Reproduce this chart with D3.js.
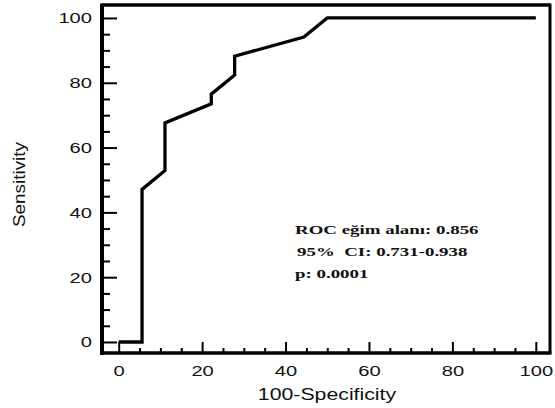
<html>

<head>
  <meta charset="utf-8">
  <title>ROC curve</title>
  <script type="text/javascript" src="https://cdn.jsdelivr.net/npm/d3@7"></script>
  <style>
    body { margin: 0; background: #fff; }
  </style>
</head>

<body>
  <script type="text/javascript">
    const w = 555;
    const h = 408;
    // the picture is stretched sideways, so text is too
    const sx = 1.3;

    // ROC points (100-Specificity, Sensitivity)
    const fpr = [0, 5.6, 5.6, 11.1, 11.1, 22.2, 22.2, 27.8, 27.8, 44.4, 50, 100];
    const tpr = [0, 0, 47.1, 52.9, 67.6, 73.5, 76.5, 82.4, 88.2, 94.1, 100, 100];

    const majorTicks = [0, 20, 40, 60, 80, 100];
    const minorTicks = d3.range(0, 101, 5).filter(d => d % 20 !== 0);

    const notes = ["ROC eğim alanı: 0.856", "95%  CI: 0.731-0.938", "p: 0.0001"];

    const x = d3.scaleLinear().domain([-4, 103.4]).range([102, 550]);
    const y = d3.scaleLinear().domain([-3.4, 104]).range([353, 5]);

    const svg = d3.select("body")
      .append("svg")
      .attr("width", w)
      .attr("height", h);

    // minor ticks
    svg.append("g")
      .attr("transform", "translate(0," + y.range()[0] + ")")
      .call(d3.axisBottom(x).tickValues(minorTicks).tickSize(-5).tickFormat(""))
      .call(g => g.select(".domain").remove())
      .selectAll("line").attr("stroke-width", 2);
    svg.append("g")
      .attr("transform", "translate(" + x.range()[0] + ",0)")
      .call(d3.axisLeft(y).tickValues(minorTicks).tickSize(-8).tickFormat(""))
      .call(g => g.select(".domain").remove())
      .selectAll("line").attr("stroke-width", 2);

    // major ticks + labels
    const xAxis = svg.append("g")
      .attr("transform", "translate(0," + y.range()[0] + ")")
      .call(d3.axisBottom(x).tickValues(majorTicks).tickSizeInner(-11).tickSizeOuter(0).tickPadding(12));
    xAxis.select(".domain").remove();
    xAxis.selectAll("line").attr("stroke-width", 2);
    xAxis.selectAll("text")
      .attr("font-family", "Liberation Sans, Arial, sans-serif")
      .attr("font-size", 15.5)
      .attr("fill", "#111")
      .attr("transform", "scale(" + sx + ",1)");

    const yAxis = svg.append("g")
      .attr("transform", "translate(" + x.range()[0] + ",0)")
      .call(d3.axisLeft(y).tickValues(majorTicks).tickSizeInner(-15).tickSizeOuter(0));
    yAxis.select(".domain").remove();
    yAxis.selectAll("line").attr("stroke-width", 2);
    yAxis.selectAll("text")
      .attr("font-family", "Liberation Sans, Arial, sans-serif")
      .attr("font-size", 15.5)
      .attr("fill", "#111")
      .attr("x", -10 / sx)
      .attr("transform", "scale(" + sx + ",1)");

    // frame
    svg.append("line")
      .attr("x1", x.range()[0]).attr("x2", x.range()[1])
      .attr("y1", y.range()[1]).attr("y2", y.range()[1])
      .attr("stroke", "#000").attr("stroke-width", 3.3);
    svg.append("line")
      .attr("x1", x.range()[1]).attr("x2", x.range()[1])
      .attr("y1", y.range()[1] - 1.5).attr("y2", y.range()[0])
      .attr("stroke", "#000").attr("stroke-width", 3);
    svg.append("line")
      .attr("x1", x.range()[0]).attr("x2", x.range()[0])
      .attr("y1", y.range()[1] - 1.5).attr("y2", y.range()[0] + 2)
      .attr("stroke", "#000").attr("stroke-width", 4);
    svg.append("line")
      .attr("x1", x.range()[0] - 2).attr("x2", x.range()[1] + 1.5)
      .attr("y1", y.range()[0]).attr("y2", y.range()[0])
      .attr("stroke", "#000").attr("stroke-width", 3.5);

    // ROC curve
    const line = d3.line()
      .x(d => x(d[0]))
      .y(d => y(d[1]));
    svg.append("path")
      .datum(d3.zip(fpr, tpr))
      .attr("d", line)
      .attr("fill", "none")
      .attr("stroke", "#000")
      .attr("stroke-width", 3.3)
      .attr("stroke-linejoin", "miter");

    // axis titles
    svg.append("text")
      .attr("transform", "translate(327,400) scale(1.33,1)")
      .attr("text-anchor", "middle")
      .attr("font-family", "Liberation Sans, Arial, sans-serif")
      .attr("font-size", 16)
      .attr("fill", "#111")
      .text("100-Specificity");
    svg.append("text")
      .attr("transform", "translate(25,184.5) rotate(-90) scale(1.18,1)")
      .attr("text-anchor", "middle")
      .attr("font-family", "Liberation Sans, Arial, sans-serif")
      .attr("font-size", 16)
      .attr("fill", "#111")
      .text("Sensitivity");

    // stats box text
    svg.selectAll(".note")
      .data(notes)
      .enter()
      .append("text")
      .attr("class", "note")
      .attr("transform", (d, i) => "translate(" + (i === 1 ? 297 : 295) + "," + (234 + i * 22) + ") scale(1.4,1)")
      .attr("font-family", "Liberation Serif, Times New Roman, serif")
      .attr("font-weight", "bold")
      .attr("font-size", 13.5)
      .attr("fill", "#111")
      .style("white-space", "pre")
      .text(d => d);
  </script>
</body>

</html>
